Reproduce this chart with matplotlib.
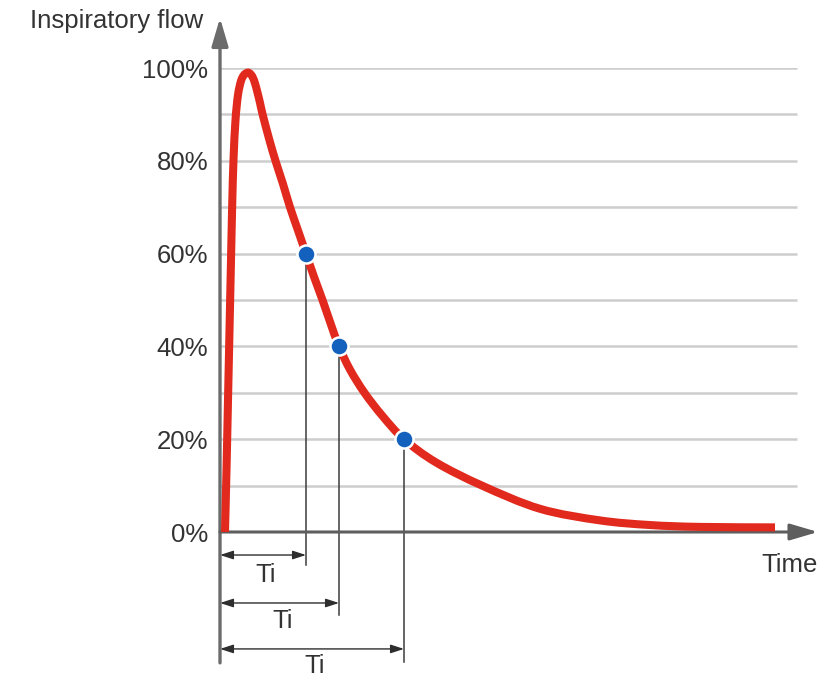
import matplotlib
matplotlib.use("Agg")
import matplotlib.pyplot as plt
from matplotlib.patches import FancyArrowPatch, PathPatch
from matplotlib.path import Path

plt.rcParams['font.family'] = ['Liberation Sans', 'DejaVu Sans']

# Inspiratory flow curve: time (arbitrary units) vs flow (% of peak)
time = [0.10, 0.13, 0.16, 0.19, 0.22, 0.244, 0.27, 0.31, 0.36, 0.42, 0.48,
        0.55, 0.60, 0.65, 0.70, 0.75, 0.80, 0.85, 0.98, 1.11, 1.26, 1.40,
        1.56, 1.72, 1.88, 2.05, 2.21, 2.38, 2.60, 2.89, 3.25, 3.68, 4.32,
        5.24, 6.40, 7.60, 8.60, 9.60, 11.10]
flow = [0.0, 13.4, 28.4, 43.5, 58.6, 70.5, 80.2, 88.8, 94.2, 97.2, 98.5,
        99.0, 98.8, 98.1, 96.7, 94.7, 92.5, 90.1, 84.8, 80.0, 75.0, 70.0,
        65.0, 60.0, 55.0, 50.0, 45.0, 40.0, 35.0, 30.0, 25.0, 20.0, 15.0,
        10.0, 5.0, 2.5, 1.5, 1.1, 1.0]

# Cycling thresholds and the inspiratory times at which they are reached
cycle_flow = [60, 40, 20]
cycle_time = [1.72, 2.38, 3.68]
ti_label = "Ti"

ytick_values = [0, 20, 40, 60, 80, 100]
ytick_labels = ["0%", "20%", "40%", "60%", "80%", "100%"]
grid_levels = [10, 20, 30, 40, 50, 60, 70, 80, 90, 100]

W, H = 833, 677
fig = plt.figure(figsize=(W / 100, H / 100), dpi=100)
ax = fig.add_axes([220 / W, 145 / H, (W - 220) / W, 464 / H])
ax.set_xlim(0, (W - 220) / 50)
ax.set_ylim(0, 100)
for s in ax.spines.values():
    s.set_visible(False)

text_color = "#333333"
axis_color = "#6b6b6b"
fs = 18.5

ax.set_xticks([])
ax.set_yticks(ytick_values)
ax.set_yticklabels(ytick_labels)
ax.tick_params(axis="y", length=0, pad=8.5, labelsize=fs, labelcolor=text_color)

# horizontal grid
ax.hlines(grid_levels, 0, 11.54, colors="#cdcdcd", linewidth=1.8, zorder=1)


def arrow(p0, p1, style, color, lw, z):
    a = FancyArrowPatch(p0, p1, arrowstyle=style, color=color, linewidth=lw,
                        mutation_scale=1, shrinkA=0, shrinkB=0,
                        transform=ax.transData, clip_on=False, zorder=z)
    ax.add_patch(a)


# axes with arrowheads
arrow((0, -28.2), (0, 110.8), "-|>,head_length=17,head_width=5", axis_color, 2.4, 4)
arrow((0, 0), (11.96, 0), "-|>,head_length=17,head_width=5", "#5e5e5e", 2.2, 4)

# drop lines from the cycling points and Ti brackets
bracket_y = [-4.96, -15.3, -25.2]
drop_end = [-7.1, -17.9, -28.0]
label_y = [-10.8, -20.7, -30.3]
for t, f, by, de, ly in zip(cycle_time, cycle_flow, bracket_y, drop_end, label_y):
    ax.plot([t, t], [f, de], color="#3c3c3c", linewidth=1.1, zorder=3, clip_on=False)
    arrow((0, by), (t, by), "<|-|>,head_length=8,head_width=2.6", "#2e2e2e", 1.0, 3)
    ax.text(t / 2 + 0.06, ly, ti_label, ha="center", va="baseline",
            fontsize=fs, color=text_color, clip_on=False)


# flow curve, drawn as a smooth Bezier path through the points
def smooth_path(xs, ys):
    pts = list(zip(xs, ys))
    n = len(pts)
    verts = [pts[0]]
    codes = [Path.MOVETO]
    for i in range(n - 1):
        p0 = pts[max(i - 1, 0)]
        p1 = pts[i]
        p2 = pts[i + 1]
        p3 = pts[min(i + 2, n - 1)]
        c1 = (p1[0] + (p2[0] - p0[0]) / 6, p1[1] + (p2[1] - p0[1]) / 6)
        c2 = (p2[0] - (p3[0] - p1[0]) / 6, p2[1] - (p3[1] - p1[1]) / 6)
        verts += [c1, c2, p2]
        codes += [Path.CURVE4] * 3
    return Path(verts, codes)


curve = PathPatch(smooth_path(time, flow), facecolor="none", edgecolor="#e2291d",
                  linewidth=5.8, capstyle="butt", joinstyle="round",
                  zorder=5, clip_on=False)
ax.add_patch(curve)
ax.plot(cycle_time, cycle_flow, linestyle="none", marker="o", markersize=13,
        markerfacecolor="#1461bd", markeredgecolor="white", markeredgewidth=1.8,
        zorder=6, clip_on=False)

# axis titles
ax.text(-0.34, 108.6, "Inspiratory flow", ha="right", va="baseline",
        fontsize=fs, color=text_color, clip_on=False)
ax.text(11.96, -8.6, "Time", ha="right", va="baseline",
        fontsize=fs, color=text_color, clip_on=False)

fig.savefig("out.png", dpi=100)
